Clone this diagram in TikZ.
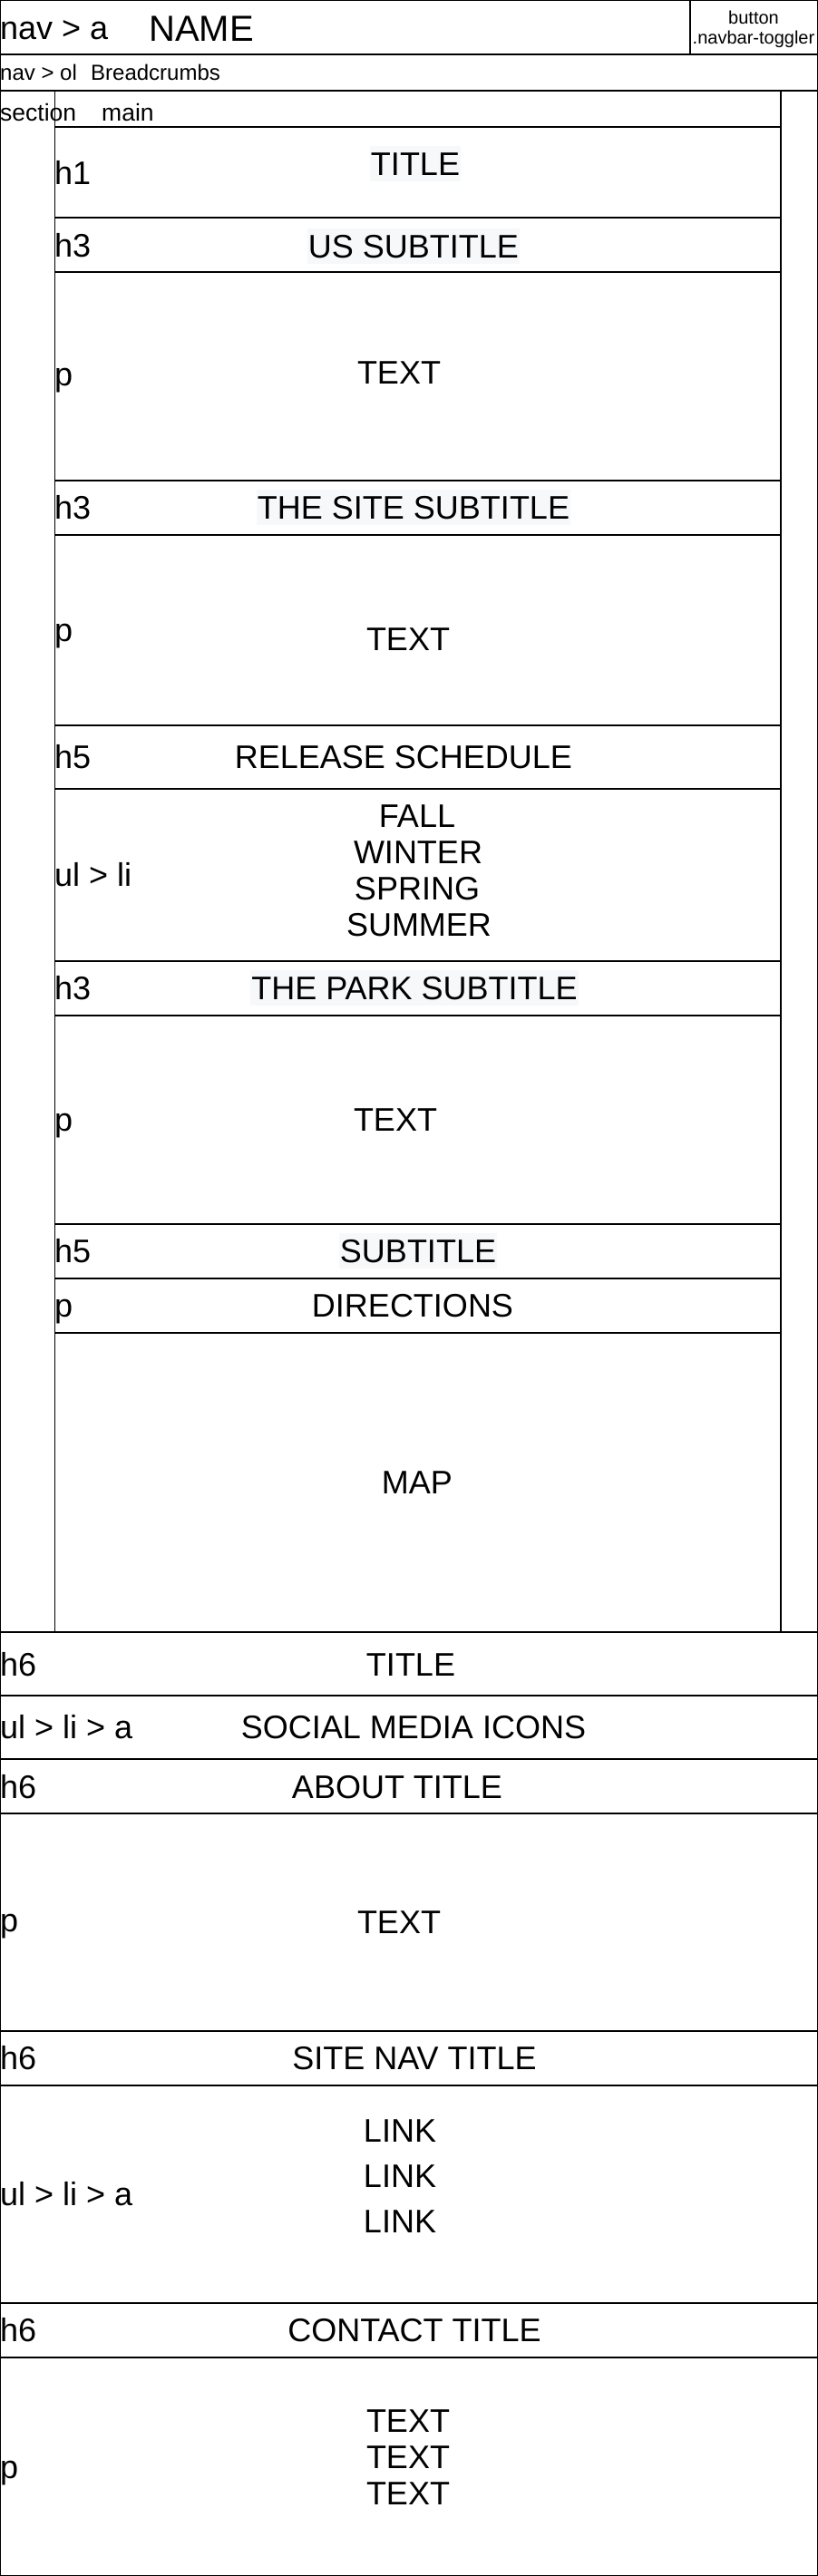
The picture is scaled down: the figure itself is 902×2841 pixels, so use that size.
\documentclass[tikz,border=0pt]{standalone}
\usepackage{fontspec}
\setmainfont{Liberation Sans}
\usepackage{xcolor}
\usepackage{tikz}
\usetikzlibrary{positioning}
\definecolor{HiliteGray}{RGB}{247,248,250}

\begin{document}
\begin{tikzpicture}[x=1pt, y=-1pt,
                % Style khung
                frame/.style={draw=black, line width=1.2pt},
                % Style chu
                tag/.style={anchor=base west, inner sep=0pt, font=\fontsize{36}{40}\selectfont},
                big/.style={anchor=base, inner sep=0pt, font=\fontsize{36}{40}\selectfont},
                small/.style={anchor=base, inner sep=0pt, font=\fontsize{20}{24}\selectfont},
                crumb/.style={anchor=base west, inner sep=0pt, font=\fontsize{24}{28}\selectfont},
                sect/.style={anchor=base west, inner sep=0pt, font=\fontsize{26.5}{30}\selectfont},
                hilite/.style={big, fill=HiliteGray, inner xsep=1pt, inner ysep=0pt, text height=32pt, text depth=7pt}
            ]
                \useasboundingbox (0,0) rectangle (902,2841);

                % --- KHUNG ---
                \draw[frame] (0.6,0.6) rectangle (901.4,2840.4);
                \draw[frame] (0,60) -- (902,60);
                \draw[frame] (761,0) -- (761,60);
                \draw[frame] (0,100) -- (902,100);

                % main
                \draw[frame] (60.5,100) rectangle (861,1800);
                \foreach \y in {140,240,300,530,590,800,870,1060,1120,1350,1410,1470}
                    \draw[frame] (60.5,\y) -- (861,\y);

                % footer
                \foreach \y in {1800,1870,1940,2000,2240,2300,2540,2600}
                    \draw[frame] (0,\y) -- (902,\y);

                % --- NAV ---
                \node[tag] (nava) at (0,43) {nav > a};
                \node[anchor=base west, inner sep=0pt, font=\fontsize{40}{44}\selectfont] (name) at (164,45) {NAME};
                \node[small] (btn) at (831,26) {button};
                \node[small] (toggler) at (831,48) {.navbar-toggler};

                \node[crumb] (navol) at (0,88) {nav > ol};
                \node[crumb] (crumbs) at (100,88) {Breadcrumbs};

                \node[sect] (section) at (0,133) {section};
                \node[sect] (mainlbl) at (112,133) {main};

                % --- MAIN ---
                \node[tag] (h1) at (60,203) {h1};
                \node[hilite] (title) at (458,193) {TITLE};

                \node[tag] (h3us) at (60,283) {h3};
                \node[hilite] (ussub) at (456,284) {US SUBTITLE};

                \node[tag] (pus) at (60,425) {p};
                \node[big] (textus) at (440,423) {TEXT};

                \node[tag] (h3site) at (60,572) {h3};
                \node[hilite] (sitesub) at (456,572) {THE SITE SUBTITLE};

                \node[tag] (psite) at (60,707) {p};
                \node[big] (textsite) at (450,717) {TEXT};

                \node[tag] (h5rel) at (60,847) {h5};
                \node[big] (release) at (445,847) {RELEASE SCHEDULE};

                \node[tag] (ulli) at (60,977) {ul > li};
                \node[big] (fall) at (460,912) {FALL};
                \node[big] (winter) at (461,952) {WINTER};
                \node[big] (spring) at (460,992) {SPRING};
                \node[big] (summer) at (462,1032) {SUMMER};

                \node[tag] (h3park) at (60,1102) {h3};
                \node[hilite] (parksub) at (457,1102) {THE PARK SUBTITLE};

                \node[tag] (ppark) at (60,1247) {p};
                \node[big] (textpark) at (436,1247) {TEXT};

                \node[tag] (h5sub) at (60,1392) {h5};
                \node[hilite] (subtitle) at (461,1392) {SUBTITLE};

                \node[tag] (pdir) at (60,1452) {p};
                \node[big] (directions) at (455,1452) {DIRECTIONS};

                \node[big] (map) at (460,1647) {MAP};

                % --- FOOTER ---
                \node[tag] (h6title) at (0,1848) {h6};
                \node[big] (ftitle) at (453,1848) {TITLE};

                \node[tag] (ullia) at (0,1917) {ul > li > a};
                \node[big] (social) at (456,1917) {SOCIAL MEDIA ICONS};

                \node[tag] (h6about) at (0,1983) {h6};
                \node[big] (about) at (438,1983) {ABOUT TITLE};

                \node[tag] (pabout) at (0,2130) {p};
                \node[big] (textabout) at (440,2132) {TEXT};

                \node[tag] (h6nav) at (0,2282) {h6};
                \node[big] (sitenav) at (457,2282) {SITE NAV TITLE};

                \node[tag] (ullinks) at (0,2432) {ul > li > a};
                \node[big] (link1) at (441,2362) {LINK};
                \node[big] (link2) at (441,2412) {LINK};
                \node[big] (link3) at (441,2462) {LINK};

                \node[tag] (h6contact) at (0,2582) {h6};
                \node[big] (contact) at (457,2582) {CONTACT TITLE};

                \node[tag] (pcontact) at (0,2733) {p};
                \node[big] (text1) at (450,2682) {TEXT};
                \node[big] (text2) at (450,2722) {TEXT};
                \node[big] (text3) at (450,2762) {TEXT};

            \end{tikzpicture}
\end{document}
